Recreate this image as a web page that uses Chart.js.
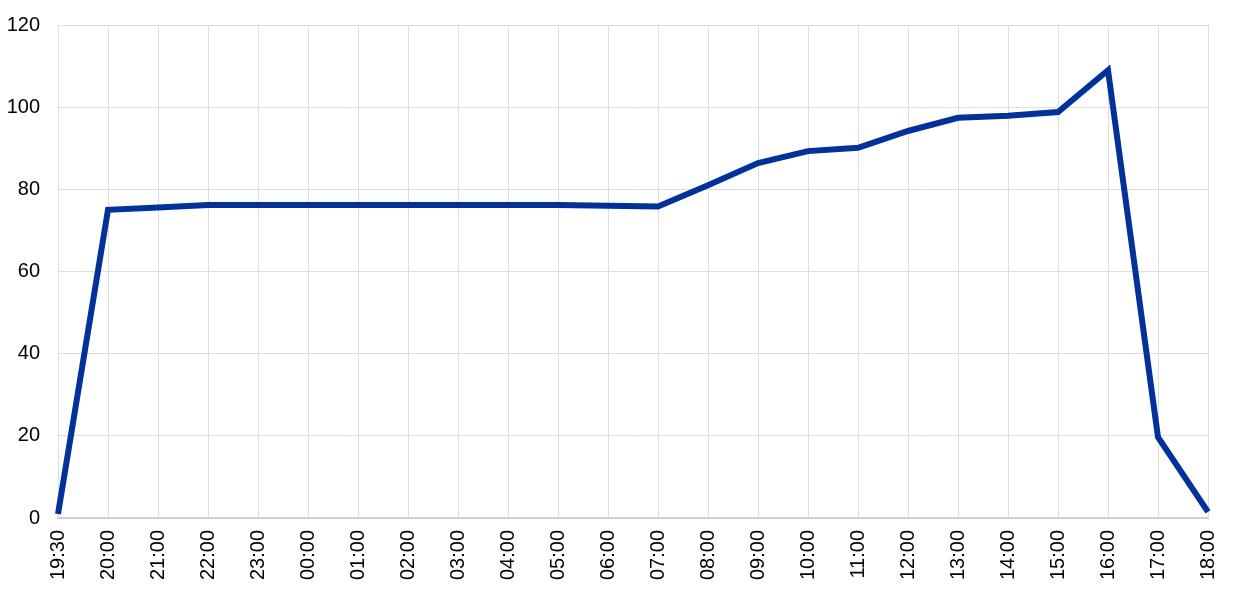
<!DOCTYPE html>
<html>
<head>
<meta charset="utf-8">
<script src="https://cdn.jsdelivr.net/npm/chart.js@4"></script>
<style>
  html, body { margin: 0; padding: 0; background: #fff; }
  #wrap { width: 1240px; height: 593px; }
</style>
</head>
<body>
<div id="wrap"><canvas id="linechart"></canvas></div>
<script>
const timeLabels = ['19:30', '20:00', '21:00', '22:00', '23:00', '00:00', '01:00', '02:00', '03:00', '04:00', '05:00', '06:00',
    '07:00', '08:00', '09:00', '10:00', '11:00', '12:00', '13:00', '14:00', '15:00', '16:00', '17:00', '18:00'];
const values = [1, 75, 75.6, 76.2, 76.2, 76.2, 76.2, 76.2, 76.2, 76.2, 76.2, 76,
    75.8, 81, 86.4, 89.3, 90.1, 94.2, 97.4, 97.9, 98.8, 109, 19.7, 1.5];
const yTicks = [0, 20, 40, 60, 80, 100, 120];

Chart.defaults.font.family = '"Liberation Sans", Arial, sans-serif';
Chart.defaults.font.size = 20;
Chart.defaults.color = '#000';

const config = {
    type: 'line',
    data: {
        labels: timeLabels,
        datasets: [{
            data: values,
            borderColor: '#003299',
            backgroundColor: '#003299',
            borderWidth: 6,
            pointRadius: 0,
            tension: 0,
            fill: false
        }]
    },
    options: {
        responsive: false,
        animation: false,
        layout: { padding: { top: 25, right: 32, left: 0, bottom: 0 } },
        scales: {
            x: {
                offset: false,
                grid: { color: '#dedede', lineWidth: 1, drawTicks: false },
                border: { color: '#d0d0d0', width: 2 },
                ticks: { minRotation: 90, maxRotation: 90, padding: 12, autoSkip: false },
                afterFit: (s) => {
                    s.height = 75;
                    // don't let the rotated last label push the plot inward
                    s.paddingLeft = 0;
                    s.paddingRight = 0;
                }
            },
            y: {
                min: 0,
                max: 120,
                afterBuildTicks: (s) => { s.ticks = yTicks.map(v => ({ value: v })); },
                grid: { color: '#dedede', lineWidth: 1, drawTicks: false },
                border: { color: '#dedede', width: 1 },
                ticks: { padding: 18 },
                afterFit: (s) => {
                    s.width = 58;
                    s.paddingTop = 0;
                    s.paddingBottom = 0;
                }
            }
        },
        plugins: {
            legend: { display: false },
            tooltip: { enabled: false }
        }
    }
};

const canvas = document.getElementById('linechart');
canvas.width = 1240;
canvas.height = 593;
new Chart(canvas, config);
</script>
</body>
</html>
